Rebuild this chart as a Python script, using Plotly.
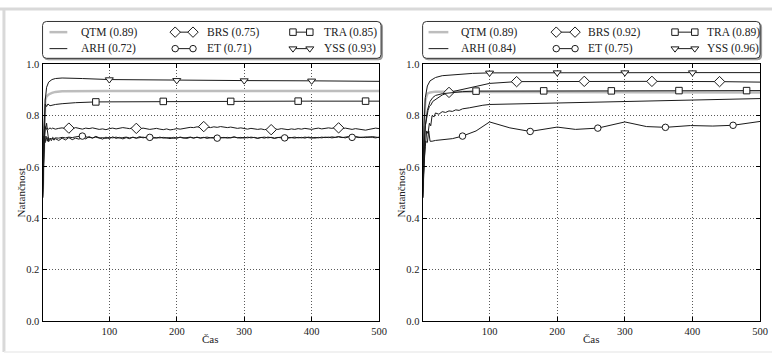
import plotly.graph_objects as go

# ---------------------------------------------------------------- data
# shared time grid for the jittery left-panel series
X_NOISY = [1, 2, 3, 4, 5, 6, 7, 8, 9, 10, 12, 14, 16, 18, 20] + list(range(25, 501, 5))

# left panel ------------------------------------------------------------
BRS_L = [0.48, 0.60, 0.69, 0.74, 0.757, 0.752, 0.746, 0.751, 0.749, 0.747, 0.752, 0.748, 0.751, 0.750, 0.747,
         0.750, 0.752, 0.749, 0.751, 0.748, 0.753, 0.750, 0.747, 0.751, 0.749,
         0.752, 0.750, 0.746, 0.748, 0.745, 0.749, 0.751, 0.748, 0.750, 0.753,
         0.751, 0.749, 0.752, 0.750, 0.748, 0.751, 0.749, 0.746, 0.748, 0.750,
         0.747, 0.745, 0.748, 0.744, 0.746, 0.749, 0.747, 0.750, 0.752, 0.754,
         0.753, 0.756, 0.754, 0.757, 0.755, 0.753, 0.756, 0.754, 0.757, 0.755,
         0.753, 0.755, 0.752, 0.750, 0.752, 0.749, 0.747, 0.750, 0.748, 0.746,
         0.748, 0.745, 0.747, 0.745, 0.748, 0.746, 0.749, 0.747, 0.745, 0.748,
         0.746, 0.749, 0.747, 0.750, 0.748, 0.746, 0.749, 0.751, 0.748, 0.750,
         0.752, 0.750, 0.753, 0.752, 0.749, 0.751, 0.748, 0.746, 0.749, 0.747,
         0.745, 0.743, 0.746, 0.748, 0.751, 0.749]
ET_L = [0.48, 0.58, 0.66, 0.72, 0.745, 0.765, 0.770, 0.745, 0.720, 0.705, 0.712, 0.708, 0.715, 0.710, 0.713,
        0.712, 0.715, 0.713, 0.716, 0.714, 0.717, 0.718, 0.720, 0.717, 0.715,
        0.713, 0.716, 0.712, 0.714, 0.711, 0.715, 0.713, 0.716, 0.712, 0.714,
        0.716, 0.713, 0.715, 0.712, 0.714, 0.716, 0.713, 0.715, 0.712, 0.714,
        0.713, 0.715, 0.712, 0.714, 0.711, 0.713, 0.715, 0.712, 0.714, 0.716,
        0.713, 0.715, 0.712, 0.714, 0.716, 0.713, 0.715, 0.712, 0.714, 0.713,
        0.715, 0.713, 0.716, 0.714, 0.712, 0.715, 0.713, 0.716, 0.714, 0.712,
        0.714, 0.716, 0.713, 0.715, 0.712, 0.714, 0.716, 0.713, 0.715, 0.714,
        0.712, 0.715, 0.713, 0.716, 0.714, 0.712, 0.715, 0.713, 0.716, 0.714,
        0.716, 0.713, 0.715, 0.717, 0.714, 0.716, 0.718, 0.715, 0.717, 0.714,
        0.716, 0.714, 0.717, 0.715, 0.713, 0.716]
ARH_L = [0.48, 0.64, 0.72, 0.700, 0.695, 0.720, 0.705, 0.700, 0.715, 0.698, 0.708, 0.702, 0.712, 0.704, 0.710,
         0.703, 0.712, 0.705, 0.714, 0.706, 0.712, 0.708, 0.716, 0.709, 0.718,
         0.712, 0.719, 0.713, 0.708, 0.716, 0.710, 0.717, 0.711, 0.715, 0.709,
         0.714, 0.710, 0.716, 0.712, 0.718, 0.713, 0.716, 0.711, 0.715, 0.712,
         0.716, 0.712, 0.714, 0.710, 0.715, 0.712, 0.716, 0.713, 0.711, 0.715,
         0.712, 0.716, 0.713, 0.715, 0.711, 0.714, 0.712, 0.716, 0.713, 0.715,
         0.712, 0.714, 0.717, 0.713, 0.715, 0.712, 0.716, 0.713, 0.715, 0.711,
         0.715, 0.712, 0.716, 0.714, 0.711, 0.715, 0.713, 0.716, 0.712, 0.714,
         0.716, 0.713, 0.715, 0.712, 0.716, 0.714, 0.712, 0.715, 0.713, 0.716,
         0.714, 0.717, 0.715, 0.718, 0.716, 0.713, 0.717, 0.715, 0.718, 0.716,
         0.714, 0.717, 0.715, 0.718, 0.716, 0.714]

QTM_L_X = [1, 3, 5, 7, 10, 15, 20, 30, 50, 100, 500]
QTM_L = [0.48, 0.74, 0.86, 0.875, 0.882, 0.888, 0.892, 0.894, 0.895, 0.895, 0.895]
TRA_L_X = [1, 3, 5, 7, 9, 12, 15, 20, 30, 50, 80, 180, 280, 380, 480, 500]
TRA_L = [0.48, 0.75, 0.845, 0.835, 0.845, 0.838, 0.840, 0.843, 0.846, 0.850, 0.853, 0.855, 0.855, 0.856, 0.856, 0.856]
YSS_L_X = [1, 3, 5, 7, 10, 15, 20, 30, 40, 60, 100, 200, 300, 400, 500]
YSS_L = [0.48, 0.72, 0.86, 0.91, 0.93, 0.94, 0.944, 0.946, 0.946, 0.944, 0.940, 0.937, 0.936, 0.935, 0.933]

# right panel -----------------------------------------------------------
QTM_R_X = [1, 3, 5, 8, 12, 20, 50, 100, 500]
QTM_R = [0.48, 0.76, 0.86, 0.885, 0.890, 0.893, 0.893, 0.892, 0.890]
ARH_R_X = [1, 3, 5, 7, 9, 11, 13, 15, 18, 20, 25, 30, 35, 40, 45, 50, 55, 60, 70, 80, 90, 100, 150, 200, 300, 400, 500]
ARH_R = [0.48, 0.62, 0.68, 0.74, 0.73, 0.77, 0.76, 0.80, 0.795, 0.81, 0.805, 0.815, 0.812, 0.818, 0.816, 0.822,
         0.820, 0.826, 0.830, 0.836, 0.840, 0.843, 0.846, 0.848, 0.853, 0.860, 0.866]
BRS_R_X = [1, 3, 5, 7, 9, 11, 13, 16, 20, 25, 30, 40, 60, 80, 100, 140, 240, 340, 440, 500]
BRS_R = [0.48, 0.68, 0.76, 0.80, 0.82, 0.835, 0.840, 0.855, 0.862, 0.872, 0.880, 0.890, 0.902, 0.915, 0.925,
         0.932, 0.933, 0.933, 0.932, 0.930]
ET_R_X = [1, 3, 5, 8, 10, 12, 15, 20, 30, 45, 60, 80, 100, 130, 160, 200, 227, 260, 300, 332, 360, 397, 430, 460, 500]
ET_R = [0.48, 0.62, 0.70, 0.695, 0.74, 0.70, 0.70, 0.703, 0.705, 0.710, 0.720, 0.740, 0.775, 0.752, 0.738, 0.755,
        0.746, 0.751, 0.775, 0.757, 0.754, 0.761, 0.759, 0.762, 0.777]
TRA_R_X = [1, 3, 5, 8, 12, 16, 20, 30, 40, 60, 80, 180, 280, 380, 480, 500]
TRA_R = [0.48, 0.66, 0.76, 0.82, 0.855, 0.870, 0.878, 0.885, 0.888, 0.893, 0.895, 0.896, 0.896, 0.897, 0.897, 0.897]
YSS_R_X = [1, 3, 5, 8, 12, 20, 30, 50, 75, 100, 200, 300, 400, 500]
YSS_R = [0.48, 0.76, 0.87, 0.915, 0.935, 0.948, 0.955, 0.960, 0.964, 0.966, 0.967, 0.967, 0.967, 0.967]

# marker positions along the time axis
MARK_BRS = [40, 140, 240, 340, 440]
MARK_ET = [60, 160, 260, 360, 460]
MARK_TRA = [80, 180, 280, 380, 480]
MARK_YSS = [100, 200, 300, 400]

SCORES_L = {"QTM": 0.89, "ARH": 0.72, "BRS": 0.75, "ET": 0.71, "TRA": 0.85, "YSS": 0.93}
SCORES_R = {"QTM": 0.89, "ARH": 0.84, "BRS": 0.92, "ET": 0.75, "TRA": 0.89, "YSS": 0.96}

X_TICKS = [100, 200, 300, 400, 500]
Y_TICKS = [0.0, 0.2, 0.4, 0.6, 0.8, 1.0]

# ---------------------------------------------------------------- style
W, H = 780, 361
FONT = "Liberation Serif"
INK = "#1a1a1a"
TXT = "#222222"
GREY = "#bdbdbd"
SYMBOLS = {"BRS": ("diamond", 8), "ET": ("circle", 6.5), "TRA": ("square", 6.5), "YSS": ("triangle-down", 7)}

fig = go.Figure()


def add_series(x, y, xa, ya, name=None, marks=None, color=INK, width=1.0):
    fig.add_trace(go.Scatter(x=x, y=y, mode="lines", line=dict(color=color, width=width),
                             xaxis=xa, yaxis=ya, showlegend=False, hoverinfo="skip"))
    if marks:
        mx = [xi for xi in x if xi in marks]
        my = [y[x.index(xi)] for xi in mx]
        sym, size = SYMBOLS[name]
        fig.add_trace(go.Scatter(x=mx, y=my, mode="markers",
                                 marker=dict(symbol=sym, size=size, color="white",
                                             line=dict(color=INK, width=1)),
                                 xaxis=xa, yaxis=ya, showlegend=False, hoverinfo="skip"))


# left panel
add_series(QTM_L_X, QTM_L, "x", "y", color=GREY, width=2.5)
add_series(X_NOISY, ARH_L, "x", "y")
add_series(X_NOISY, BRS_L, "x", "y", "BRS", MARK_BRS)
add_series(X_NOISY, ET_L, "x", "y", "ET", MARK_ET)
add_series(TRA_L_X, TRA_L, "x", "y", "TRA", MARK_TRA)
add_series(YSS_L_X, YSS_L, "x", "y", "YSS", MARK_YSS)

# right panel
add_series(QTM_R_X, QTM_R, "x2", "y2", color=GREY, width=2.5)
add_series(ARH_R_X, ARH_R, "x2", "y2")
add_series(BRS_R_X, BRS_R, "x2", "y2", "BRS", MARK_BRS)
add_series(ET_R_X, ET_R, "x2", "y2", "ET", MARK_ET)
add_series(TRA_R_X, TRA_R, "x2", "y2", "TRA", MARK_TRA)
add_series(YSS_R_X, YSS_R, "x2", "y2", "YSS", MARK_YSS)

# ---------------------------------------------------------------- axes
PANELS = [(43, 383), (427, 768)]
Y_TOP, Y_BOT = 61, 326


def px_x(v):
    return v / W


def px_y(v):
    return 1 - v / H


axis_common = dict(showline=True, linecolor="black", linewidth=1.2, mirror="ticks",
                   ticks="inside", ticklen=4, tickcolor="black", tickwidth=1,
                   showgrid=True, gridcolor="#5a5a5a", gridwidth=0.8, griddash="1px,2px",
                   zeroline=False, tickfont=dict(family=FONT, size=10.5, color=TXT))

layout_axes = {}
for i, (l, r) in enumerate(PANELS):
    sfx = "" if i == 0 else "2"
    layout_axes["xaxis" + sfx] = dict(axis_common, domain=[px_x(l), px_x(r)], range=[1, 500],
                                      tickvals=X_TICKS, anchor="y" + sfx)
    layout_axes["yaxis" + sfx] = dict(axis_common, domain=[px_y(Y_BOT), px_y(Y_TOP)], range=[0, 1],
                                      tickvals=Y_TICKS, tickformat=".1f", anchor="x" + sfx)

# overlay in pixel space for the legend boxes and the outer frame
layout_axes["xaxis3"] = dict(domain=[0, 1], range=[0, W], visible=False, fixedrange=True)
layout_axes["yaxis3"] = dict(domain=[0, 1], range=[H, 0], visible=False, fixedrange=True, anchor="x3")

shapes = []
annotations = []


def rounded_box(x0, y0, x1, y1, r=4):
    return (f"M {x0 + r} {y0} L {x1 - r} {y0} Q {x1} {y0} {x1} {y0 + r} L {x1} {y1 - r} "
            f"Q {x1} {y1} {x1 - r} {y1} L {x0 + r} {y1} Q {x0} {y1} {x0} {y1 - r} "
            f"L {x0} {y0 + r} Q {x0} {y0} {x0 + r} {y0} Z")


LEGENDS = [
    dict(box=(43, 17, 385, 55), scores=SCORES_L,
         cols=[(50, 68, 80), (177, 195, 207), (296, 313, 325)]),
    dict(box=(427, 17, 768, 55), scores=SCORES_R,
         cols=[(433, 453, 464), (562, 581, 592), (682, 702, 712)]),
]
ORDER = [["QTM", "ARH"], ["BRS", "ET"], ["TRA", "YSS"]]
ROWS = [28, 45]

for lg in LEGENDS:
    x0, y0, x1, y1 = lg["box"]
    shapes.append(dict(type="path", path=rounded_box(x0 + 1.5, y0 + 1.5, x1 + 1.5, y1 + 1.5),
                       xref="x3", yref="y3", line=dict(color="#9a9a9a", width=1),
                       fillcolor="#9a9a9a", layer="below"))
    shapes.append(dict(type="path", path=rounded_box(x0, y0, x1, y1), xref="x3", yref="y3",
                       line=dict(color="#333", width=1), fillcolor="white", layer="below"))
    for (a, b, tx), names in zip(lg["cols"], ORDER):
        for ry, nm in zip(ROWS, names):
            if nm == "QTM":
                line = dict(color=GREY, width=2.5)
                mode = "lines"
                mk = None
            else:
                line = dict(color=INK, width=1)
                if nm in SYMBOLS:
                    mode = "lines+markers"
                    sym, size = SYMBOLS[nm]
                    mk = dict(symbol=sym, size=size, color="white", line=dict(color=INK, width=1))
                else:
                    mode = "lines"
                    mk = None
            tr = dict(x=[a, b], y=[ry, ry], mode=mode, line=line, xaxis="x3", yaxis="y3",
                      showlegend=False, hoverinfo="skip", cliponaxis=False)
            if mk:
                tr["marker"] = mk
            fig.add_trace(go.Scatter(**tr))
            annotations.append(dict(x=tx, y=ry, xref="x3", yref="y3", xanchor="left", yanchor="middle",
                                    text=f"{nm} ({lg['scores'][nm]:.2f})", showarrow=False,
                                    font=dict(family=FONT, size=11.5, color=TXT)))

# axis titles
for l, r in PANELS:
    annotations.append(dict(x=(l + r) / 2, y=344, xref="x3", yref="y3", text="Čas", showarrow=False,
                            xanchor="center", yanchor="middle", font=dict(family=FONT, size=11, color=TXT)))
for xc in (21, 405):
    annotations.append(dict(x=xc, y=(Y_TOP + Y_BOT) / 2, xref="x3", yref="y3", text="Natančnost",
                            textangle=-90, showarrow=False, xanchor="center", yanchor="middle",
                            font=dict(family=FONT, size=11, color=TXT)))

# light frame around the whole figure
shapes.append(dict(type="line", x0=0, x1=W, y0=4, y1=4, xref="x3", yref="y3",
                   line=dict(color="#d9d9d9", width=3), layer="below"))
shapes.append(dict(type="line", x0=4, x1=4, y0=4, y1=358, xref="x3", yref="y3",
                   line=dict(color="#d9d9d9", width=3), layer="below"))
shapes.append(dict(type="line", x0=4, x1=W, y0=358, y1=358, xref="x3", yref="y3",
                   line=dict(color="#ececec", width=1.5), layer="below"))

fig.update_layout(width=W, height=H, margin=dict(l=0, r=0, t=0, b=0),
                  paper_bgcolor="white", plot_bgcolor="rgba(0,0,0,0)",
                  showlegend=False, shapes=shapes, annotations=annotations,
                  font=dict(family=FONT), **layout_axes)

fig.write_html("out.html")
